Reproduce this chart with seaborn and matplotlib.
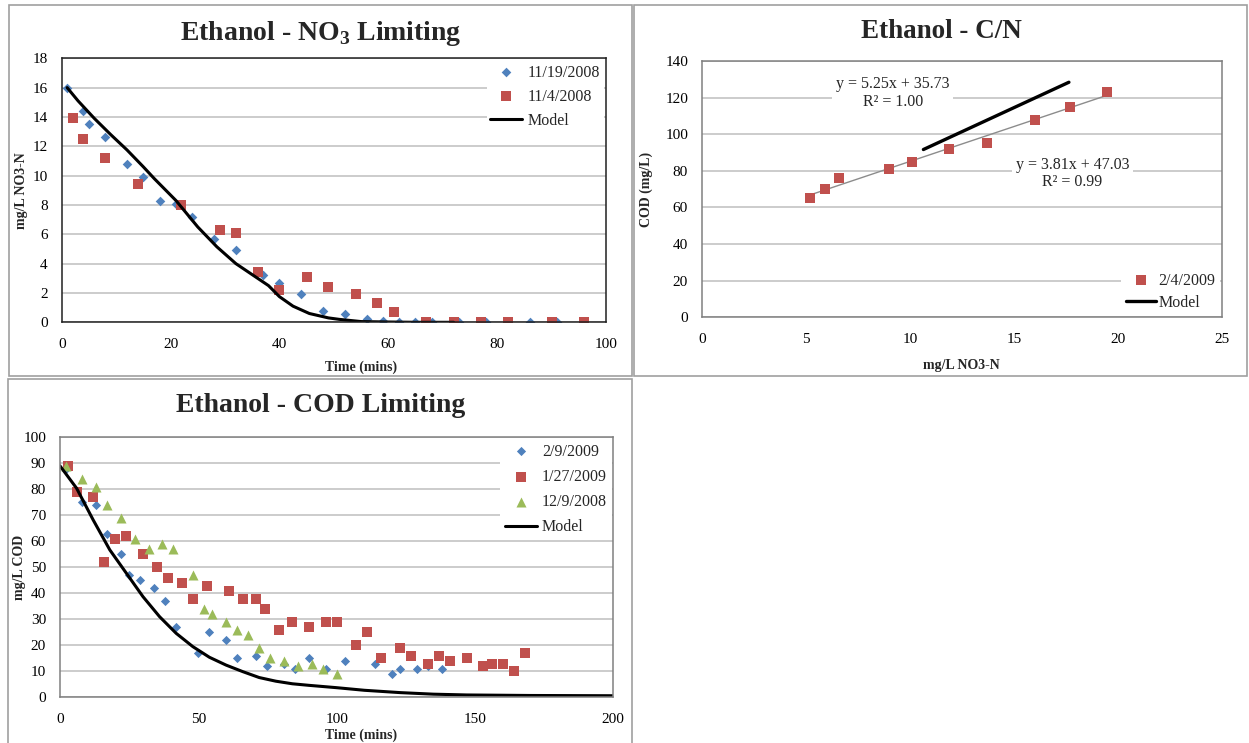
import numpy as np
import pandas as pd
import matplotlib
matplotlib.use("Agg")
import matplotlib.pyplot as plt
import seaborn as sns
from matplotlib.patches import Rectangle

# ---------------- data ----------------
# Ethanol - NO3 limiting (mg/L NO3-N vs time)
no3_t_a = [1, 4, 5, 8, 12, 15, 18, 21, 24, 28, 32, 37, 40, 44, 48, 52, 56, 59, 62, 65, 68, 73, 78, 86, 91]
no3_v_a = [16.0, 14.4, 13.5, 12.6, 10.8, 9.9, 8.3, 8.1, 7.2, 5.7, 4.9, 3.2, 2.7, 1.9, 0.8, 0.6, 0.2, 0.1,
           0.05, 0.0, 0.0, 0.0, 0.0, 0.0, 0.0]
no3_t_b = [2, 4, 8, 14, 22, 29, 32, 36, 40, 45, 49, 54, 58, 61, 67, 72, 77, 82, 90, 96]
no3_v_b = [13.9, 12.5, 11.2, 9.4, 8.0, 6.3, 6.1, 3.4, 2.2, 3.1, 2.4, 1.9, 1.3, 0.7, 0.0, 0.0, 0.0, 0.0, 0.0, 0.0]
no3_model_t = [1, 3, 6, 9, 12, 15, 17, 21, 25, 28.5, 32, 36, 38, 40, 42.5, 45.5, 49, 51, 55, 60, 65, 72]
no3_model_v = [16.0, 15.1, 13.9, 12.8, 11.75, 10.6, 9.8, 8.3, 6.5, 5.15, 4.0, 3.0, 2.5, 1.75, 1.1, 0.6, 0.3,
               0.2, 0.05, 0.02, 0.0, 0.0]
no3_labels = ["11/19/2008", "11/4/2008", "Model"]

# Ethanol - C/N
cn_x = [5.2, 5.9, 6.6, 9.0, 10.1, 11.9, 13.7, 16.0, 17.7, 19.5]
cn_y = [65, 70, 76, 81, 85, 92, 95, 108, 115, 123]
cn_fit_slope, cn_fit_icpt, cn_fit_r2 = 3.81, 47.03, 0.99
cn_fit_x = [5.2, 19.3]
cn_model_slope, cn_model_icpt, cn_model_r2 = 5.25, 35.73, 1.00
cn_model_x = [10.65, 17.65]
cn_labels = ["2/4/2009", "Model"]

# Ethanol - COD limiting (mg/L COD vs time)
cod_t_a = [2, 8, 13, 17, 22, 25, 29, 34, 38, 42, 50, 54, 60, 64, 71, 75, 81, 85, 90, 96, 103, 114, 120, 123,
           129, 133, 138]
cod_v_a = [88, 75, 74, 63, 55, 47, 45, 42, 37, 27, 17, 25, 22, 15, 16, 12, 13, 11, 15, 11, 14, 13, 9, 11,
           11, 12, 11]
cod_t_b = [3, 6, 12, 16, 20, 24, 30, 35, 39, 44, 48, 53, 61, 66, 71, 74, 79, 84, 90, 96, 100, 107, 111, 116,
           123, 127, 133, 137, 141, 147, 153, 156, 160, 164, 168]
cod_v_b = [89, 79, 77, 52, 61, 62, 55, 50, 46, 44, 38, 43, 41, 38, 38, 34, 26, 29, 27, 29, 29, 20, 25, 15,
           19, 16, 13, 16, 14, 15, 12, 13, 13, 10, 17]
cod_t_c = [2, 8, 13, 17, 22, 27, 32, 37, 41, 48, 52, 55, 60, 64, 68, 72, 76, 81, 86, 91, 95, 100]
cod_v_c = [89, 84, 81, 74, 69, 61, 57, 59, 57, 47, 34, 32, 29, 26, 24, 19, 15, 14, 12, 13, 11, 9]
cod_model_t = [0, 6, 12, 18, 24, 30, 36, 42, 48, 54, 60, 66, 72, 78, 84, 90, 100, 110, 123, 135, 147, 170, 200]
cod_model_v = [89, 80.4, 68.2, 56.7, 47.7, 38.7, 31.0, 24.6, 19.5, 15.4, 12.4, 9.9, 7.6, 6.2, 5.2, 4.6, 3.7,
               2.7, 1.8, 1.2, 0.9, 0.7, 0.6]
cod_labels = ["2/9/2009", "1/27/2009", "12/9/2008", "Model"]

# ---------------- style ----------------
BLUE, RED, GREEN = "#4F81BD", "#C0504D", "#9BBB59"
GRID = "#BEBEBE"

sns.set_theme(style="white")
plt.rcParams["font.family"] = ["Liberation Serif", "DejaVu Serif"]
plt.rcParams["mathtext.fontset"] = "custom"
plt.rcParams["mathtext.rm"] = "Liberation Serif"
plt.rcParams["mathtext.bf"] = "Liberation Serif:bold"

W, H = 1249, 743
fig = plt.figure(figsize=(W / 100, H / 100), dpi=100)
fig.patch.set_facecolor("white")


def px_axes(left, top, right, bottom):
    return fig.add_axes([left / W, 1 - bottom / H, (right - left) / W, (bottom - top) / H])


def style(ax, xticks, yticks, spine_color, tick_size):
    ax.set_xlim(xticks[0], xticks[-1])
    ax.set_ylim(yticks[0], yticks[-1])
    ax.set_xticks(xticks)
    ax.set_yticks(yticks)
    ax.tick_params(axis="both", length=0, labelsize=tick_size, colors="black")
    ax.tick_params(axis="x", pad=11)
    ax.tick_params(axis="y", pad=10)
    ax.grid(axis="y", color=GRID, linewidth=1.1)
    ax.grid(axis="x", visible=False)
    ax.set_axisbelow(True)
    for s in ax.spines.values():
        s.set_color(spine_color)
        s.set_linewidth(1.1)
        s.set_zorder(6)


def place_labels(ax, xlabel, ylabel, xpos, ypos, size):
    ax.set_xlabel(xlabel, fontsize=size, fontweight="bold")
    ax.set_ylabel(ylabel, fontsize=size, fontweight="bold")
    ax.xaxis.label.set_verticalalignment("center")
    ax.yaxis.label.set_verticalalignment("center")
    ax.xaxis.set_label_coords(*xpos)
    ax.yaxis.set_label_coords(*ypos)


def white_legend(ax, **kw):
    leg = ax.legend(frameon=True, facecolor="white", edgecolor="none", framealpha=1, **kw)
    leg.set_zorder(5)
    return leg


# panel borders
for (l, t, r, b) in [(9, 5, 632, 376), (634, 5, 1247, 376), (8, 379, 632, 745)]:
    fig.patches.append(Rectangle((l / W, 1 - b / H), (r - l) / W, (b - t) / H, transform=fig.transFigure,
                                 fill=False, edgecolor="#A0A0A0", linewidth=1.2))

# ---------------- panel 1: NO3 limiting ----------------
ax1 = px_axes(61.7, 58.3, 606, 322.3)
sns.scatterplot(x=no3_t_a, y=no3_v_a, ax=ax1, marker="D", s=24, color=BLUE, linewidth=0,
                label=no3_labels[0], zorder=3)
sns.scatterplot(x=no3_t_b, y=no3_v_b, ax=ax1, marker="s", s=50, color=RED, linewidth=0,
                label=no3_labels[1], zorder=3)
sns.lineplot(x=no3_model_t, y=no3_model_v, ax=ax1, color="black", linewidth=2.2, label=no3_labels[2],
             zorder=4, estimator=None, sort=False)
style(ax1, list(range(0, 101, 20)), list(range(0, 19, 2)), "#202020", 11)
place_labels(ax1, "Time (mins)", "mg/L NO3-N", ((361 - 61.7) / 544.3, (322.3 - 367) / 264),
             ((22 - 61.7) / 544.3, 0.5), 10)
white_legend(ax1, loc="upper right", bbox_to_anchor=(1.0, 1.0), borderaxespad=0.15, fontsize=11.5,
             handlelength=2.0, handletextpad=0.3, labelspacing=0.5, borderpad=0.25)
fig.text(321 / W, 1 - 33 / H, r"Ethanol - NO$_{\mathbf{3}}$ Limiting", ha="center", va="center",
         fontsize=20, fontweight="bold")

# ---------------- panel 2: C/N ----------------
ax2 = px_axes(702, 61, 1221.7, 317.3)
fx = np.array(cn_fit_x)
sns.lineplot(x=fx, y=cn_fit_slope * fx + cn_fit_icpt, ax=ax2, color="#8C8C8C", linewidth=1.0, zorder=2,
             legend=False)
sns.scatterplot(x=cn_x, y=cn_y, ax=ax2, marker="s", s=62, color=RED, linewidth=0, label=cn_labels[0],
                zorder=3)
mx = np.array(cn_model_x)
sns.lineplot(x=mx, y=cn_model_slope * mx + cn_model_icpt, ax=ax2, color="black", linewidth=2.4,
             label=cn_labels[1], zorder=4)
style(ax2, list(range(0, 26, 5)), list(range(0, 141, 20)), "#808080", 11)
place_labels(ax2, "mg/L NO3-N", "COD (mg/L)", (0.5, (317.3 - 365) / 256.3),
             ((646 - 702) / 519.7, 0.5), 10)
white_legend(ax2, loc="lower right", bbox_to_anchor=(1.0, 0.0), borderaxespad=0.1, fontsize=11.5,
             handlelength=1.9, handletextpad=0.15, labelspacing=0.4, borderpad=0.3)
ann_box = dict(boxstyle="square,pad=0.25", facecolor="white", edgecolor="none")
ax2.text(9.17, 122.5, f"y = {cn_model_slope:.2f}x + {cn_model_icpt:.2f}\nR\u00b2 = {cn_model_r2:.2f}",
         ha="center", va="center", fontsize=11.5, linespacing=1.1, bbox=ann_box, zorder=2.5)
ax2.text(17.82, 78.5, f"y = {cn_fit_slope:.2f}x + {cn_fit_icpt:.2f}\nR\u00b2 = {cn_fit_r2:.2f}",
         ha="center", va="center", fontsize=11.5, linespacing=1.1, bbox=ann_box, zorder=2.5)
fig.text(941 / W, 1 - 31 / H, "Ethanol - C/N", ha="center", va="center", fontsize=19.5, fontweight="bold")

# ---------------- panel 3: COD limiting ----------------
ax3 = px_axes(60, 437.3, 613.3, 697.3)
sns.scatterplot(x=cod_t_a, y=cod_v_a, ax=ax3, marker="D", s=22, color=BLUE, linewidth=0,
                label=cod_labels[0], zorder=3)
sns.scatterplot(x=cod_t_b, y=cod_v_b, ax=ax3, marker="s", s=46, color=RED, linewidth=0,
                label=cod_labels[1], zorder=3)
sns.scatterplot(x=cod_t_c, y=cod_v_c, ax=ax3, marker="^", s=52, color=GREEN, linewidth=0,
                label=cod_labels[2], zorder=3)
sns.lineplot(x=cod_model_t, y=cod_model_v, ax=ax3, color="black", linewidth=2.2, label=cod_labels[3],
             zorder=4, estimator=None, sort=False)
style(ax3, list(range(0, 201, 50)), list(range(0, 101, 10)), "#808080", 11)
place_labels(ax3, "Time (mins)", "mg/L COD", ((361 - 60) / 553.3, (697.3 - 735) / 260),
             ((20 - 60) / 553.3, 0.5), 10)
white_legend(ax3, loc="upper right", bbox_to_anchor=(1.0, 1.0), borderaxespad=0.1, fontsize=11.5,
             handlelength=2.0, handletextpad=0.3, labelspacing=0.58, borderpad=0.3)
fig.text(320.5 / W, 1 - 406 / H, "Ethanol - COD Limiting", ha="center", va="center", fontsize=20,
         fontweight="bold")

fig.savefig("out.png", dpi=100, facecolor="white")
